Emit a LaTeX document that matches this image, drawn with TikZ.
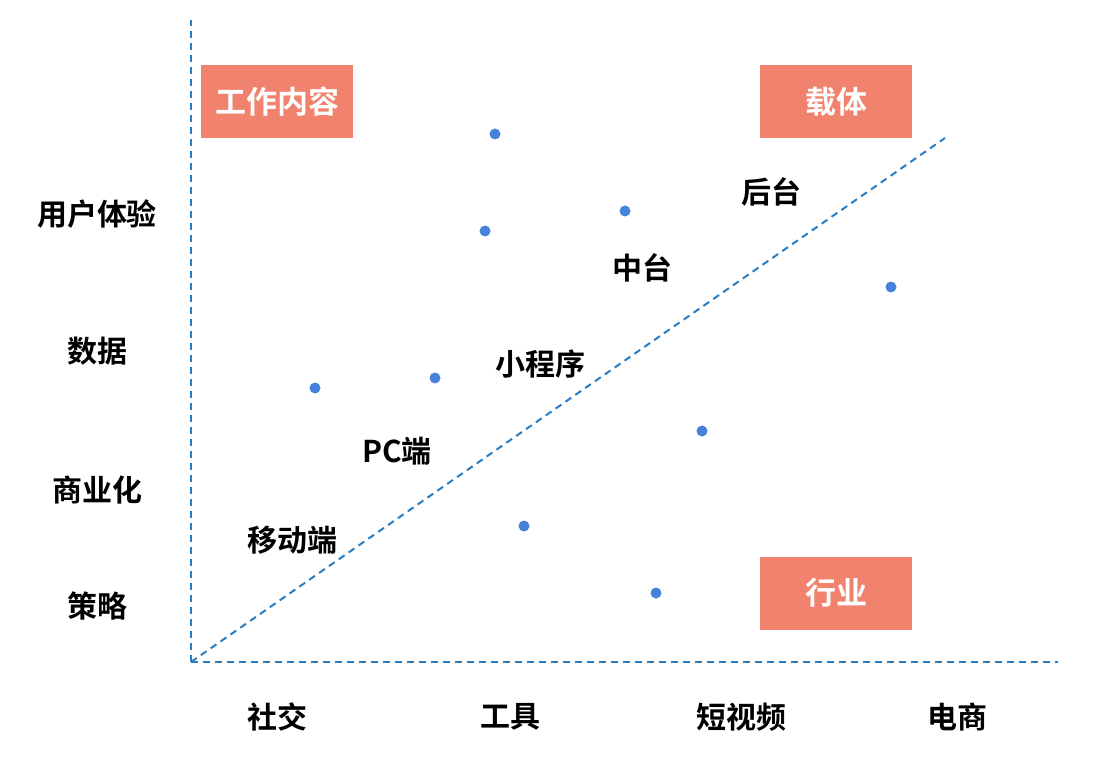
\documentclass[tikz,border=0pt]{standalone}
\usepackage{fontspec}
\setmainfont{Noto Sans CJK SC Bold}
\begin{document}
\begin{tikzpicture}[x=1pt,y=-1pt,
  axis/.style={draw=axblue,line width=2.4pt,dash pattern=on 7pt off 5pt},
  diag/.style={draw=axblue,line width=2pt,dash pattern=on 7pt off 5pt},
  tag/.style={fill=salmon,text=white,minimum width=152pt,minimum height=73pt,font=\fontsize{31}{36}\selectfont},
  lbl/.style={text=black,font=\fontsize{30}{34}\selectfont},
  dot/.style={circle,fill=dotblue,inner sep=0pt,minimum size=11pt}]
\definecolor{axblue}{RGB}{40,125,195}
\definecolor{dotblue}{RGB}{70,130,220}
\definecolor{salmon}{RGB}{240,130,110}
\fill[white] (0,0) rectangle (1106,762);
\useasboundingbox (0,0) rectangle (1106,762);
\coordinate (o) at (191,662);
\coordinate (top) at (191,20);
\coordinate (right) at (1058,662);
\coordinate (de) at (945,138);
\draw[axis] (o) -- (top);
\draw[axis] (o) -- (right);
\draw[diag] (o) -- (de);
\node[tag] (t1) at (277,102) {工作内容};
\node[tag] (t2) at (836,102) {载体};
\node[tag] (t3) at (836,593) {行业};
\node[lbl] (y1) at (97,214) {用户体验};
\node[lbl] (y2) at (97,351) {数据};
\node[lbl] (y3) at (97,490) {商业化};
\node[lbl] (y4) at (97,606) {策略};
\node[lbl] (x1) at (277,717) {社交};
\node[lbl] (x2) at (510,717) {工具};
\node[lbl] (x3) at (741,717) {短视频};
\node[lbl] (x4) at (957,717) {电商};
\node[lbl] (a1) at (771,192) {后台};
\node[lbl] (a2) at (642,268) {中台};
\node[lbl] (a3) at (540,364) {小程序};
\node[lbl] (a4) at (397,451) {PC端};
\node[lbl] (a5) at (292,540) {移动端};
\node[dot] (d1) at (495,134) {};
\node[dot] (d2) at (625,211) {};
\node[dot] (d3) at (485,231) {};
\node[dot] (d4) at (891,287) {};
\node[dot] (d5) at (315,388) {};
\node[dot] (d6) at (435,378) {};
\node[dot] (d7) at (702,431) {};
\node[dot] (d8) at (524,526) {};
\node[dot] (d9) at (656,593) {};
\end{tikzpicture}
\end{document}
